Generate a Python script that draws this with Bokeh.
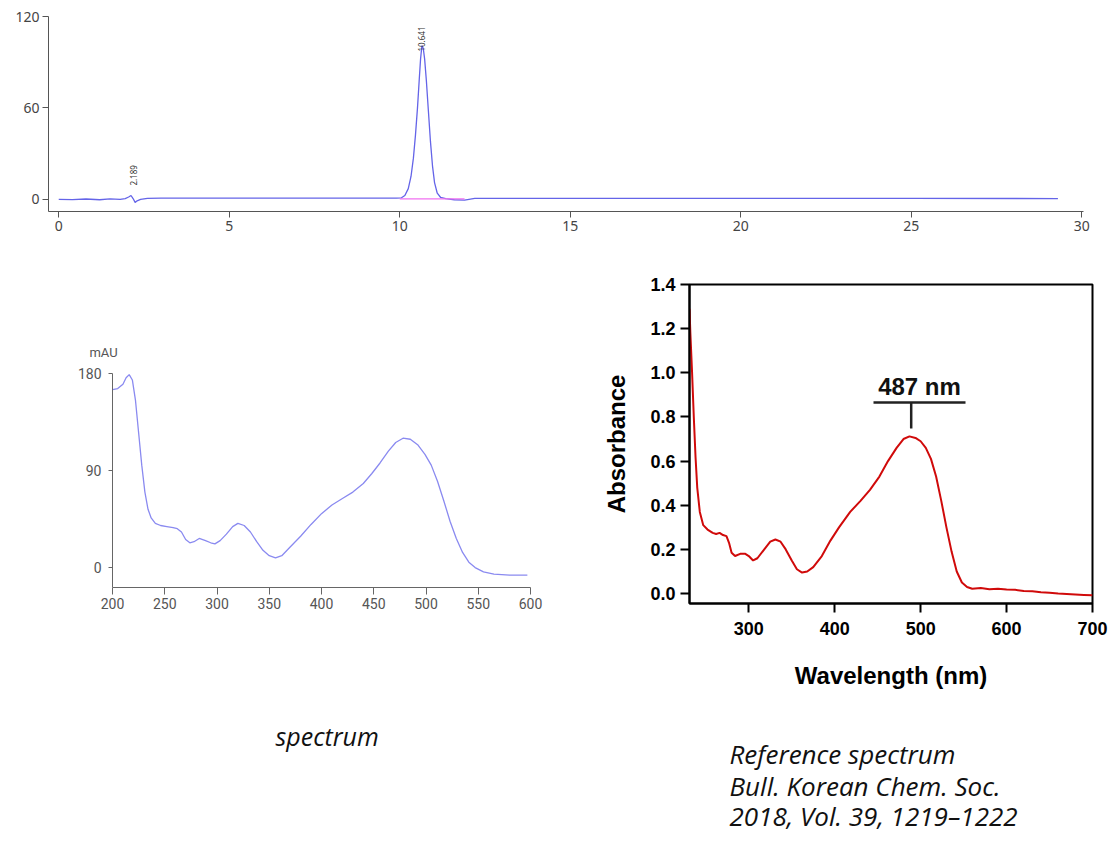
from math import pi
from bokeh.plotting import figure
from bokeh.layouts import column, row
from bokeh.models import Range1d, FixedTicker, Label, NumeralTickFormatter
from bokeh.embed import file_html
from bokeh.resources import INLINE
from bokeh.core.properties import value

# ---------------- data: chromatogram (time, min / mAU) ----------------
chrom_t = [0.0, 0.4, 0.8, 1.2, 1.5, 1.8, 1.95, 2.05, 2.12, 2.18, 2.24, 2.3, 2.4, 2.6, 3.0,
           5.0, 8.0, 9.9, 10.05, 10.15, 10.25, 10.33, 10.4, 10.46, 10.52, 10.57, 10.61,
           10.65, 10.69, 10.73, 10.78, 10.84, 10.9, 10.96, 11.02, 11.1, 11.2, 11.35,
           11.6, 11.9, 12.2, 15.0, 20.0, 25.0, 29.3]
chrom_mau = [0.0, -0.2, 0.2, -0.3, 0.3, 0.0, 0.5, 1.5, 2.5, 0.5, -2.0, -1.0, 0.0, 0.6, 0.8,
             0.8, 0.8, 0.8, 1.0, 2.5, 7.0, 15.0, 27.0, 42.0, 60.0, 78.0, 92.0,
             101.0, 99.0, 92.0, 78.0, 58.0, 38.0, 22.0, 11.0, 4.0, 1.2, 0.4,
             -0.3, -0.5, 0.6, 0.6, 0.6, 0.6, 0.5]
peak_rt = [2.189, 10.641]
peak_label_y = [9.0, 97.0]
pink_base_t = [10.0, 11.9]
pink_base_mau = [0.3, 0.3]
chrom_xticks = [0, 5, 10, 15, 20, 25, 30]
chrom_yticks = [0, 60, 120]

# ---------------- data: DAD spectrum (nm / mAU) ----------------
spec_nm = [200, 205, 210, 213, 216, 219, 222, 225, 228, 231, 234, 237, 241, 246, 252,
           258, 262, 266, 270, 274, 278, 283, 289, 294, 298, 303, 309, 315, 320, 326,
           332, 338, 344, 350, 356, 362, 370, 380, 390, 400, 410, 420, 430, 440, 448,
           456, 464, 471, 478, 485, 492, 499, 505, 511, 517, 523, 529, 535, 541, 547,
           555, 565, 580, 597]
spec_mau = [165, 166, 170, 176, 179, 174, 155, 125, 95, 70, 54, 46, 41, 39, 38,
            37, 36, 33, 26, 23, 24, 27, 25, 23, 22, 25, 31, 38, 41, 39,
            33, 24, 16, 11, 9, 11, 19, 29, 40, 50, 58, 64, 70, 78, 87,
            97, 108, 116, 120, 119, 114, 105, 95, 80, 62, 43, 27, 14, 5, 0,
            -4, -6, -7, -7]
spec_xticks = [200, 250, 300, 350, 400, 450, 500, 550, 600]
spec_yticks = [0, 90, 180]
spec_xmin, spec_xmax = 200, 600
spec_ymin, spec_ymax = -18.5, 180

# ---------------- data: reference spectrum (nm / absorbance) ----------------
ref_nm = [231, 232, 234, 236, 238, 240, 243, 247, 252, 258, 262, 266, 270, 274, 277,
          280, 284, 290, 296, 300, 305, 310, 318, 325, 331, 337, 343, 350, 356, 362,
          368, 375, 385, 395, 405, 418, 430, 441, 452, 462, 472, 480, 487, 494, 500,
          506, 512, 518, 524, 530, 536, 542, 548, 554, 560, 570, 580, 590, 600, 610,
          620, 630, 640, 650, 660, 670, 680, 690, 700]
ref_abs = [1.29, 1.18, 1.0, 0.8, 0.62, 0.48, 0.37, 0.31, 0.29, 0.275, 0.27, 0.275, 0.265,
           0.26, 0.23, 0.185, 0.17, 0.18, 0.18, 0.17, 0.15, 0.16, 0.2, 0.235, 0.245, 0.235,
           0.2, 0.15, 0.11, 0.095, 0.1, 0.12, 0.17, 0.24, 0.3, 0.37, 0.42, 0.47, 0.53,
           0.6, 0.66, 0.70, 0.712, 0.705, 0.69, 0.66, 0.61, 0.53, 0.42, 0.3, 0.19, 0.1,
           0.05, 0.03, 0.022, 0.025, 0.02, 0.022, 0.018, 0.017, 0.012, 0.01, 0.006,
           0.004, 0.0, -0.002, -0.004, -0.006, -0.008]
ref_xticks = [300, 400, 500, 600, 700]
ref_yticks = [0.0, 0.2, 0.4, 0.6, 0.8, 1.0, 1.2, 1.4]
ref_peak_label = "487 nm"
ref_peak_nm = 489

caption_left = "spectrum"
caption_right = ["Reference spectrum", "Bull. Korean Chem. Soc.", "2018, Vol. 39, 1219\u20131222"]

# shared horizontal geometry of the column (plot borders are aligned in a column)
COL_LEFT, COL_FRAME_W, COL_RIGHT = 48, 1035, 27

# ======================= top: chromatogram =======================
top = figure(frame_width=COL_FRAME_W, frame_height=195, min_border_left=COL_LEFT,
             min_border_right=COL_RIGHT, min_border_top=16, min_border_bottom=39, title=None,
             x_range=Range1d(-0.3, 30.05), y_range=Range1d(-8, 120),
             toolbar_location=None, output_backend="svg")
top.line(chrom_t, chrom_mau, line_color="#6464e8", line_width=1.3)
top.line(pink_base_t, pink_base_mau, line_color="#f070f0", line_width=1.2)
top.text(x=peak_rt, y=peak_label_y, text=[f"{v:.3f}" for v in peak_rt], angle=pi / 2,
         text_font_size="8px", text_color="#333333", text_align="left",
         text_baseline="middle", text_font=value("Noto Sans"))
top.xaxis.ticker = FixedTicker(ticks=chrom_xticks)
top.yaxis.ticker = FixedTicker(ticks=chrom_yticks)
for ax in (top.xaxis[0], top.yaxis[0]):
    ax.axis_line_color = "#555555"
    ax.major_tick_line_color = "#555555"
    ax.minor_tick_line_color = None
    ax.major_tick_in = 0
    ax.major_tick_out = 6
    ax.major_label_text_font = "Noto Sans"
    ax.major_label_text_font_size = "14px"
    ax.major_label_text_color = "#444444"
top.xaxis.major_label_standoff = 3
top.yaxis.major_label_standoff = 3
top.xgrid.grid_line_color = None
top.ygrid.grid_line_color = None
top.outline_line_color = None

# shared vertical geometry of the middle row (plot borders are aligned in a row)
ROW_TOP, ROW_BOTTOM = 34, 97

# ======================= middle-left: spectrum =======================
# frame spans page x 60..530, y 284..587; 200 nm -> x 112, 180 mAU -> y 373
px_per_nm = 418 / (spec_xmax - spec_xmin)
px_per_unit = (587 - 373) / (spec_ymax - spec_ymin)
x_lo = spec_xmin - (112 - 60) / px_per_nm
y_hi = spec_ymax + (373 - 284) / px_per_unit
mid = figure(frame_width=470, frame_height=303, min_border_left=60,
             min_border_right=50, min_border_top=ROW_TOP, min_border_bottom=ROW_BOTTOM,
             title=None, x_range=Range1d(x_lo, spec_xmax), y_range=Range1d(spec_ymin, y_hi),
             toolbar_location=None, output_backend="svg")
mid.line(spec_nm, spec_mau, line_color="#8a8af0", line_width=1.3)
mid.xaxis.ticker = FixedTicker(ticks=spec_xticks)
mid.yaxis.ticker = FixedTicker(ticks=spec_yticks)
mid.yaxis.fixed_location = spec_xmin
mid.yaxis.bounds = (spec_ymin, spec_ymax)
mid.xaxis.bounds = (spec_xmin, spec_xmax)
for ax in (mid.xaxis[0], mid.yaxis[0]):
    ax.axis_line_color = "#666666"
    ax.major_tick_line_color = "#666666"
    ax.minor_tick_line_color = None
    ax.major_tick_in = 0
    ax.major_label_text_font = "Roboto"
    ax.major_label_text_font_size = "14px"
    ax.major_label_text_color = "#555555"
mid.xaxis.major_tick_out = 7
mid.yaxis.major_tick_out = 4
mid.xaxis.major_label_standoff = 3
mid.yaxis.major_label_standoff = 7
mid.xgrid.grid_line_color = None
mid.ygrid.grid_line_color = None
mid.outline_line_color = None
mid.add_layout(Label(x=spec_xmin - 9 / px_per_nm, y=spec_ymax + 21 / px_per_unit, text="mAU",
                     text_font="Roboto", text_font_size="13px", text_color="#555555",
                     text_align="center", text_baseline="middle"))

# ======================= right: reference spectrum =======================
ref = figure(frame_width=403, frame_height=319, min_border_left=109,
             min_border_right=18, min_border_top=ROW_TOP, min_border_bottom=ROW_BOTTOM,
             title=None, x_range=Range1d(231, 700), y_range=Range1d(-0.045, 1.4),
             toolbar_location=None, output_backend="svg")
ref.line(ref_nm, ref_abs, line_color="#d00a0a", line_width=2)
ref.xaxis.ticker = FixedTicker(ticks=ref_xticks)
ref.yaxis.ticker = FixedTicker(ticks=ref_yticks)
ref.yaxis.formatter = NumeralTickFormatter(format="0.0")
for ax in (ref.xaxis[0], ref.yaxis[0]):
    ax.axis_line_color = "black"
    ax.axis_line_width = 2
    ax.major_tick_line_color = "black"
    ax.major_tick_line_width = 2
    ax.minor_tick_line_color = None
    ax.major_tick_in = 0
    ax.major_tick_out = 9
    ax.major_label_text_font = "Liberation Sans"
    ax.major_label_text_font_style = "bold"
    ax.major_label_text_font_size = "18px"
    ax.major_label_text_color = "black"
    ax.axis_label_text_font = "Liberation Sans"
    ax.axis_label_text_font_style = "bold"
    ax.axis_label_text_font_size = "24px"
    ax.axis_label_text_color = "black"
ref.xaxis.axis_label = "Wavelength (nm)"
ref.yaxis.axis_label = "Absorbance"
ref.xaxis.major_label_standoff = 9
ref.yaxis.major_label_standoff = 5
ref.xaxis.axis_label_standoff = 24
ref.yaxis.axis_label_standoff = 17
ref.xgrid.grid_line_color = None
ref.ygrid.grid_line_color = None
ref.outline_line_color = "black"
ref.outline_line_width = 2


def ref_xy(px, py):
    return 231 + (px - 689) * 469 / 403, 1.4 - (py - 284) * 1.445 / 319


# peak annotation (bar over the peak and a vertical stem)
ux0, uy = ref_xy(873, 402)
ux1, _ = ref_xy(965, 402)
_, vy0 = ref_xy(911, 428)
ref.segment(x0=[ux0, ref_peak_nm], y0=[uy, uy], x1=[ux1, ref_peak_nm], y1=[uy, vy0],
            line_color="#222222", line_width=2.5)
tx, ty = ref_xy(919, 399)
ref.add_layout(Label(x=tx, y=ty, text=ref_peak_label, text_font="Liberation Sans",
                     text_font_style="bold", text_font_size="24px", text_color="#111111",
                     text_align="center", text_baseline="bottom"))

# ======================= bottom: captions =======================
# same left/right borders as the top plot; x range in page pixels
cap = figure(frame_width=COL_FRAME_W, frame_height=140, min_border_left=COL_LEFT,
             min_border_right=COL_RIGHT, min_border_top=0, min_border_bottom=0,
             x_range=Range1d(COL_LEFT, COL_LEFT + COL_FRAME_W), y_range=Range1d(840, 700),
             x_axis_type=None, y_axis_type=None, title=None,
             toolbar_location=None, output_backend="svg")
cap.outline_line_color = None
cap.text(x=[275], y=[735], text=[caption_left], text_font=value("Open Sans"),
         text_font_style="italic", text_font_size="25px", text_color="#111111",
         text_align="left", text_baseline="middle")
cap.text(x=[729] * 3, y=[753, 785, 815], text=caption_right, text_font=value("Open Sans"),
         text_font_style="italic", text_font_size="26px", text_color="#111111",
         text_align="left", text_baseline="middle")

layout = column(top, row(mid, ref, spacing=0), cap, spacing=0)
open("out.html", "w").write(file_html(layout, INLINE))
